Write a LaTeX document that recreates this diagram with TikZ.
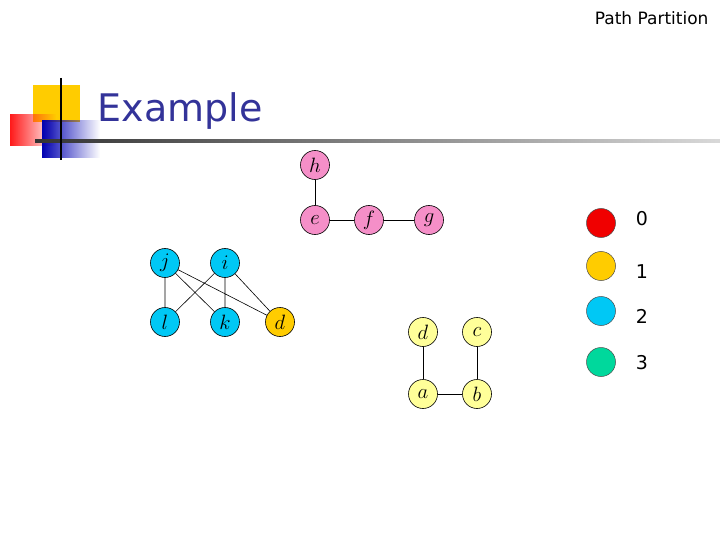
\documentclass[tikz,border=0pt]{standalone}
\usepackage{fontspec}
\setsansfont{DejaVu Sans}
\usetikzlibrary{fadings}
\definecolor{pinkn}{HTML}{F58FC8}
\definecolor{cyann}{HTML}{00C8F5}
\definecolor{goldn}{HTML}{FFCC00}
\definecolor{yel}{HTML}{FFFF99}
\definecolor{redn}{HTML}{F00000}
\definecolor{greenn}{HTML}{00D89C}
\definecolor{titleblue}{HTML}{333399}
\begin{document}
\begin{tikzpicture}[x=1pt,y=-1pt,
  vtx/.style={circle,draw=black,line width=0.6pt,minimum size=29pt,inner sep=0pt,font=\fontsize{20}{20}\selectfont\itshape},
  leg/.style={circle,draw=black!70,line width=0.5pt,minimum size=29pt,inner sep=0pt},
  lab/.style={font=\sffamily\fontsize{19}{19}\selectfont},
  edge/.style={line width=0.6pt}]
\useasboundingbox (0,0) rectangle (720,540);
% logo
\fill[goldn] (33,85) rectangle (80,122);
\fill[red!90, path fading=east] (10,114) rectangle (56,146);
\fill[blue!70!black, path fading=east] (42,120) rectangle (100,158);
\shade[left color=black!80, right color=black!15] (35,140) rectangle (720,143);
\draw[line width=2pt] (61,78) -- (61,160);
\node[anchor=west,text=titleblue,font=\sffamily\fontsize{38}{38}\selectfont] (ttl) at (94,111) {Example};
\node[anchor=east,font=\sffamily\fontsize{17}{17}\selectfont] (pp) at (712,18) {Path Partition};
% graph
\node[vtx,fill=pinkn] (h) at (315,165) {$h$};
\node[vtx,fill=pinkn] (e) at (315,220) {$e$};
\node[vtx,fill=pinkn] (f) at (369,220) {$f$};
\node[vtx,fill=pinkn] (g) at (429,220) {$g$};
\draw[edge] (h)--(e) (e)--(f) (f)--(g);
\node[vtx,fill=cyann] (j) at (165,263) {$j$};
\node[vtx,fill=cyann] (i) at (225,263) {$i$};
\node[vtx,fill=cyann] (l) at (165,322) {$l$};
\node[vtx,fill=cyann] (k) at (225,322) {$k$};
\node[vtx,fill=goldn] (d1) at (280,322) {$d$};
\draw[edge] (j)--(l) (j)--(k) (j)--(d1) (i)--(l) (i)--(k) (i)--(d1);
\node[vtx,fill=yel] (d2) at (423,332) {$d$};
\node[vtx,fill=yel] (c) at (477,332) {$c$};
\node[vtx,fill=yel] (a) at (423,394) {$a$};
\node[vtx,fill=yel] (b) at (477,394) {$b$};
\draw[edge] (d2)--(a) (c)--(b) (a)--(b);
% legend
\node[leg,fill=redn] (c0) at (601,223) {};
\node[leg,fill=goldn] (c1) at (601,266) {};
\node[leg,fill=cyann] (c2) at (601,311) {};
\node[leg,fill=greenn] (c3) at (601,362) {};
\node[lab] (l0) at (642,219) {0};
\node[lab] (l1) at (642,272) {1};
\node[lab] (l2) at (642,316) {2};
\node[lab] (l3) at (642,363) {3};
\end{tikzpicture}
\end{document}
